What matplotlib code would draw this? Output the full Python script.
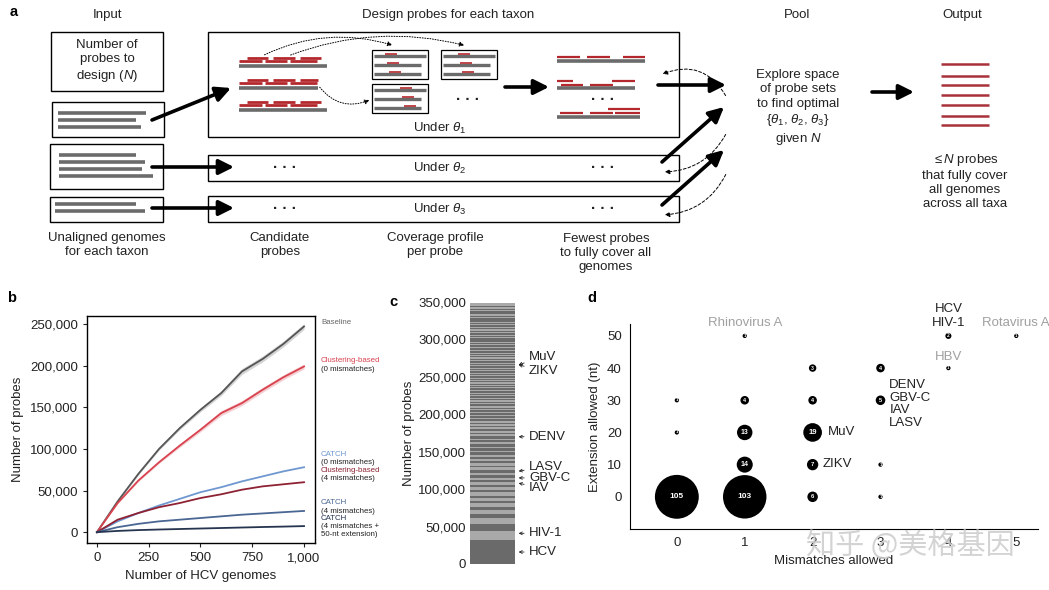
import numpy as np
import matplotlib.pyplot as plt
from matplotlib.patches import Rectangle, FancyArrowPatch
from matplotlib.ticker import FuncFormatter

plt.rcParams['font.family'] = ['Liberation Sans', 'DejaVu Sans']
plt.rcParams['mathtext.fontset'] = 'custom'
plt.rcParams['mathtext.rm'] = 'Liberation Sans'
plt.rcParams['mathtext.it'] = 'Liberation Sans:italic'

W, H = 1049, 590
TXT = '#222222'
GREY = '#6b6b6b'
RED = '#b3282d'

# ---- panel b: probes vs number of HCV genomes ----
n_genomes = [0, 100, 200, 300, 400, 500, 600, 700, 800, 900, 1000]
baseline = [0, 37000, 70000, 100000, 125000, 147000, 167000, 193000, 208000, 226000, 247000]
clust_0mm = [0, 35000, 62000, 84000, 104000, 123000, 143000, 155000, 171000, 186000, 199000]
catch_0mm = [0, 13000, 23000, 32000, 40000, 48000, 54000, 61000, 67000, 73000, 78000]
clust_4mm = [0, 15000, 23000, 30000, 35000, 41000, 45500, 51000, 55000, 57500, 60000]
catch_4mm = [0, 6000, 10000, 13000, 15000, 17000, 19000, 21000, 22500, 24000, 25500]
catch_4mm_ext = [0, 1500, 2500, 3200, 3800, 4400, 5000, 5600, 6200, 6700, 7300]
band_base = [0, 800, 1200, 1500, 2000, 2500, 3000, 3500, 3500, 3500, 3500]
band_clust = [0, 800, 1200, 1500, 2000, 2500, 3000, 3000, 3000, 3000, 3000]

series_b = [
    (baseline, '#555555', band_base),
    (clust_0mm, '#d8434f', band_clust),
    (catch_0mm, '#6f97d0', None),
    (clust_4mm, '#8e2233', None),
    (catch_4mm, '#4a6693', None),
    (catch_4mm_ext, '#26354f', None),
]
legend_b = [
    ('Baseline', None, '#666666', 323),
    ('Clustering-based', '(0 mismatches)', '#d8434f', 361),
    ('CATCH', '(0 mismatches)', '#6f97d0', 454),
    ('Clustering-based', '(4 mismatches)', '#8e2233', 470),
    ('CATCH', '(4 mismatches)', '#4a6693', 503),
    ('CATCH', '(4 mismatches +\n50-nt extension)', '#26354f', 518),
]

# ---- panel c: stacked probes per taxon (bottom to top) ----
segments_c = [
    32000, 12000, 9000, 8000, 6000, 5000, 4000, 5000, 3500, 4000,
    3000, 4500, 3000, 4000, 3000, 3500, 3000, 3000, 3500, 3000,
    4000, 3000, 2500, 3000, 3500, 2500, 3000, 2500, 3000, 2500,
    3000, 2000, 3500, 2500, 3000, 2000, 3000, 2500, 2500, 2000,
    3000, 2000, 2500, 2000, 2000, 2500, 2000, 1500, 2500, 2000,
    2000, 1500, 2500, 1500, 2000, 1500, 3000, 2000, 1500, 2000,
    1500, 1500, 2000, 1500, 1500, 2000, 1500, 1500, 2500, 1500,
    1500, 1500, 2000, 1500, 1500, 1500, 2000, 1500, 1500, 2000,
    1500, 1500, 2000, 1500, 1500, 1500, 2000, 1500, 1500, 2000,
    2500, 1500, 1500, 1500, 2000, 1500, 1500, 1500, 2000, 1500,
    3000, 1500, 1500, 2000, 1500, 1500, 4500, 2000, 1500, 1500,
    2000, 1500, 1500, 2000, 1500, 1500, 2500, 1500, 1500, 1500,
    5000, 1500, 1500, 2000, 4500, 1500, 1500, 2000, 1500, 4500,
]
labels_c = ['MuV', 'ZIKV', 'DENV', 'LASV', 'GBV-C', 'IAV', 'HIV-1', 'HCV']
label_y_c = [277000, 258000, 170000, 130000, 115000, 102000, 41000, 16000]
arrow_y_c = [266000, 266000, 170000, 124000, 115000, 108000, 41000, 16000]

# ---- panel d: taxa per parameter combination ----
mismatches = [0, 1, 2, 3, 1, 2, 3, 0, 1, 2, 0, 1, 2, 3, 2, 3, 4, 1, 4, 5]
extension = [0, 0, 0, 0, 10, 10, 10, 20, 20, 20, 30, 30, 30, 30, 40, 40, 40, 50, 50, 50]
n_taxa = [105, 103, 6, 1, 14, 7, 1, 1, 13, 19, 1, 4, 4, 5, 3, 4, 1, 1, 2, 1]
virus_d = [
    ('Rhinovirus A', 1.0, 54, '#a0a0a0', 'center'),
    ('HCV', 4.0, 58.5, TXT, 'center'),
    ('HIV-1', 4.0, 54, TXT, 'center'),
    ('Rotavirus A', 5.0, 54, '#a0a0a0', 'center'),
    ('HBV', 4.0, 43.6, '#a0a0a0', 'center'),
    ('DENV', 3.13, 34.6, TXT, 'left'),
    ('GBV-C', 3.13, 30.8, TXT, 'left'),
    ('IAV', 3.13, 26.9, TXT, 'left'),
    ('LASV', 3.13, 23.0, TXT, 'left'),
    ('MuV', 2.22, 20.2, TXT, 'left'),
    ('ZIKV', 2.15, 10.3, TXT, 'left'),
]


def box(ax, x0, y0, x1, y1, lw=1.0):
    ax.add_patch(Rectangle((x0, y0), x1 - x0, y1 - y0, fill=False, lw=lw, ec='black'))


def bar(ax, x0, x1, y, color=GREY, lw=2.6):
    ax.plot([x0, x1], [y, y], color=color, lw=lw, solid_capstyle='butt')


def arrow(ax, x0, y0, x1, y1):
    ax.annotate('', xy=(x1, y1), xytext=(x0, y0),
                arrowprops=dict(arrowstyle='-|>,head_length=0.9,head_width=0.45',
                                lw=2.6, color='black', shrinkA=0, shrinkB=0))


def curved(ax, p0, p1, rad, ls):
    ax.add_patch(FancyArrowPatch(p0, p1, connectionstyle='arc3,rad=%s' % rad,
                                 arrowstyle='-|>', mutation_scale=7, lw=0.7,
                                 ls=ls, color='black'))


def txt(ax, x, y, s, **kw):
    kw.setdefault('fontsize', 9.5)
    kw.setdefault('ha', 'center')
    kw.setdefault('va', 'center')
    kw.setdefault('color', TXT)
    ax.text(x, y, s, linespacing=1.25, **kw)


def draw_schematic(ax):
    txt(ax, 107, 15, 'Input')
    txt(ax, 448, 15, 'Design probes for each taxon')
    txt(ax, 797, 15, 'Pool')
    txt(ax, 962, 15, 'Output')

    # input column
    box(ax, 51, 32, 163, 91)
    txt(ax, 107, 61, 'Number of\nprobes to\ndesign ($N$)')
    box(ax, 52, 102, 164, 137)
    for y, x1 in [(113, 146), (120, 136), (127, 141)]:
        bar(ax, 58, x1, y)
    box(ax, 50, 144, 163, 189)
    for y, x1 in [(155, 136), (162, 145), (169, 142), (176, 153)]:
        bar(ax, 59, x1, y)
    box(ax, 50, 197, 163, 222)
    for y, x1 in [(204, 136), (211, 145)]:
        bar(ax, 55, x1, y)
    txt(ax, 107, 245, 'Unaligned genomes\nfor each taxon')

    arrow(ax, 152, 120, 231, 88)
    arrow(ax, 152, 167, 234, 167)
    arrow(ax, 152, 208, 234, 208)

    # design boxes
    box(ax, 208, 32, 679, 137)
    box(ax, 208, 155, 679, 181)
    box(ax, 208, 196, 679, 222)
    txt(ax, 440, 128, r'Under $\theta_1$')
    txt(ax, 440, 168, r'Under $\theta_2$')
    txt(ax, 440, 209, r'Under $\theta_3$')
    for y in [100, 168, 209]:
        if y != 100:
            txt(ax, 285, y, '\u00b7 \u00b7 \u00b7', fontsize=11, fontweight='bold')
        txt(ax, 603, y, '\u00b7 \u00b7 \u00b7', fontsize=11, fontweight='bold')
    txt(ax, 468, 100, '\u00b7 \u00b7 \u00b7', fontsize=11, fontweight='bold')

    # candidate probes
    for yg, x1 in [(66, 327), (88, 318), (110, 327)]:
        bar(ax, 239, x1, yg)
        for a, b in [(247, 268), (273, 295), (300, 321)]:
            bar(ax, a, min(b, x1), yg - 8, RED, 2.0)
        for a, b in [(239, 262), (265, 287), (290, 317)]:
            bar(ax, a, min(b, x1), yg - 5, RED, 2.0)

    # coverage profiles
    for bx0, by0, rx in [(372, 50, 385), (441, 50, 458), (372, 84, 400)]:
        box(ax, bx0, by0, bx0 + 56, by0 + 29, lw=0.9)
        for k, ln in enumerate([52, 47, 47]):
            yb = by0 + 6 + k * 9
            bar(ax, bx0 + 2, bx0 + 2 + ln, yb, GREY, 2.4)
            bar(ax, rx + k * 2, rx + 12 + k * 2, yb - 2.5, RED, 1.2)
    curved(ax, (262, 56), (395, 46), -0.2, ':')
    curved(ax, (288, 56), (467, 46), -0.16, ':')
    curved(ax, (318, 85), (372, 99), 0.4, ':')

    arrow(ax, 505, 87, 549, 87)

    # fewest probes
    bar(ax, 557, 645, 61)
    for a, b in [(557, 580), (587, 610), (623, 645)]:
        bar(ax, a, b, 57, RED, 1.6)
    bar(ax, 557, 635, 88)
    for a, b, y in [(557, 573, 81), (561, 583, 85), (590, 613, 85), (612, 635, 81)]:
        bar(ax, a, b, y, RED, 1.6)
    bar(ax, 557, 640, 117)
    for a, b, y in [(560, 583, 113), (590, 613, 113), (615, 640, 113), (608, 640, 109)]:
        bar(ax, a, b, y, RED, 1.6)
    txt(ax, 280, 245, 'Candidate\nprobes')
    txt(ax, 435, 245, 'Coverage profile\nper probe')
    txt(ax, 606, 253, 'Fewest probes\nto fully cover all\ngenomes')

    # into the pool
    arrow(ax, 658, 85, 726, 85)
    arrow(ax, 662, 162, 724, 107)
    arrow(ax, 662, 205, 724, 150)
    curved(ax, (727, 98), (660, 75), 0.45, (0, (3, 2)))
    curved(ax, (727, 132), (662, 172), -0.3, (0, (3, 2)))
    curved(ax, (727, 172), (662, 215), -0.3, (0, (3, 2)))
    txt(ax, 798, 108, 'Explore space\nof probe sets\nto find optimal\n'
        r'{$\theta_1$, $\theta_2$, $\theta_3$}' '\ngiven $N$')

    arrow(ax, 872, 92, 914, 92)
    for y in [64, 76, 85, 95, 105, 116, 125]:
        bar(ax, 941, 989, y, '#a8323a', 1.8)
    txt(ax, 965, 181, r'$\leq$$N$ probes' '\nthat fully cover\nall genomes\nacross all taxa')


fig = plt.figure(figsize=(W / 100, H / 100), dpi=100)

ax_a = fig.add_axes([0, 0, 1, 1])
ax_a.set_xlim(0, W)
ax_a.set_ylim(H, 0)
ax_a.axis('off')
draw_schematic(ax_a)

# panel b
ax_b = fig.add_axes([87 / W, 1 - 543 / H, 228 / W, 227 / H])
for vals, col, band in series_b:
    v = np.array(vals, dtype=float)
    if band is not None:
        ax_b.fill_between(n_genomes, v - np.array(band), v + np.array(band),
                          color=col, alpha=0.25, lw=0)
    ax_b.plot(n_genomes, v, color=col, lw=1.3)
ax_b.set_xlim(-48, 1053)
ax_b.set_ylim(-13000, 259600)
ax_b.set_xticks([0, 250, 500, 750, 1000])
ax_b.set_yticks([0, 50000, 100000, 150000, 200000, 250000])
ax_b.xaxis.set_major_formatter(FuncFormatter(lambda v, p: f'{v:,.0f}'))
ax_b.yaxis.set_major_formatter(FuncFormatter(lambda v, p: f'{v:,.0f}'))
ax_b.tick_params(labelsize=9.5, length=3, width=0.8, colors=TXT)
ax_b.set_xlabel('Number of HCV genomes', fontsize=9.5, color=TXT)
ax_b.set_ylabel('Number of probes', fontsize=9.5, color=TXT)
for s in ax_b.spines.values():
    s.set_linewidth(1.0)
for name, sub, col, ypix in legend_b:
    fig.text(321 / W, 1 - ypix / H, name, color=col, fontsize=5.7, va='center')
    if sub:
        fig.text(321 / W, 1 - (ypix + 5) / H, sub, color=TXT, fontsize=5.7,
                 va='top', linespacing=1.3)

# panel c
ax_c = fig.add_axes([470 / W, 1 - 564 / H, 45 / W, 262 / H])
bottom = 0
for i, seg in enumerate(segments_c):
    ax_c.bar(0, seg, bottom=bottom, width=1.0,
             color='#6a6a6a' if i % 2 == 0 else '#a9a9a9', lw=0)
    bottom += seg
ax_c.set_xlim(-0.5, 0.5)
ax_c.set_ylim(0, 350000)
ax_c.set_xticks([])
ax_c.set_yticks(np.arange(0, 350001, 50000))
ax_c.yaxis.set_major_formatter(FuncFormatter(lambda v, p: f'{v:,.0f}'))
ax_c.tick_params(labelsize=9.5, length=0, pad=3, colors=TXT)
ax_c.set_ylabel('Number of probes', fontsize=9.5, color=TXT, labelpad=2)
for s in ax_c.spines.values():
    s.set_visible(False)
tr = ax_c.get_yaxis_transform()
for name, ly, ay in zip(labels_c, label_y_c, arrow_y_c):
    ax_c.annotate(name, xy=(1.08, ay), xytext=(1.31, ly), xycoords=tr, textcoords=tr,
                  fontsize=9.5, color=TXT, va='center', ha='left', annotation_clip=False,
                  arrowprops=dict(arrowstyle='->', lw=0.6, color=TXT,
                                  shrinkA=1.5, shrinkB=0, mutation_scale=5))

# panel d
ax_d = fig.add_axes([630 / W, 1 - 529 / H, 408 / W, 205 / H])
ax_d.scatter(mismatches, extension, s=[9.5 * n for n in n_taxa], color='black', lw=0)
for x, y, n in zip(mismatches, extension, n_taxa):
    ax_d.text(x, y, str(n), color='white', ha='center', va='center',
              fontsize=min(6.0, 2.5 + 0.7 * np.sqrt(n)), fontweight='bold')
for name, x, y, col, ha in virus_d:
    ax_d.text(x, y, name, color=col, fontsize=9.5, ha=ha, va='center')
ax_d.set_xlim(-0.69, 5.32)
ax_d.set_ylim(-10, 53.7)
ax_d.set_xticks(range(6))
ax_d.set_yticks([0, 10, 20, 30, 40, 50])
ax_d.tick_params(labelsize=9.5, length=0, pad=6, colors=TXT)
ax_d.set_xlabel('Mismatches allowed', fontsize=9.5, color=TXT, labelpad=4)
ax_d.set_ylabel('Extension allowed (nt)', fontsize=9.5, color=TXT, labelpad=4)
ax_d.spines['top'].set_visible(False)
ax_d.spines['right'].set_visible(False)

for lab, x, y in [('a', 14, 12), ('b', 12, 298), ('c', 393, 302), ('d', 592, 298)]:
    fig.text(x / W, 1 - y / H, lab, fontsize=10.5, fontweight='bold', ha='center', va='center')

fig.text(910 / W, 1 - 547 / H, '知乎 @美格基因', family=['Noto Sans CJK SC', 'DejaVu Sans'],
         fontsize=21, color='#cccccc', alpha=0.85, ha='center', va='center')

fig.savefig('out.png', dpi=100)
